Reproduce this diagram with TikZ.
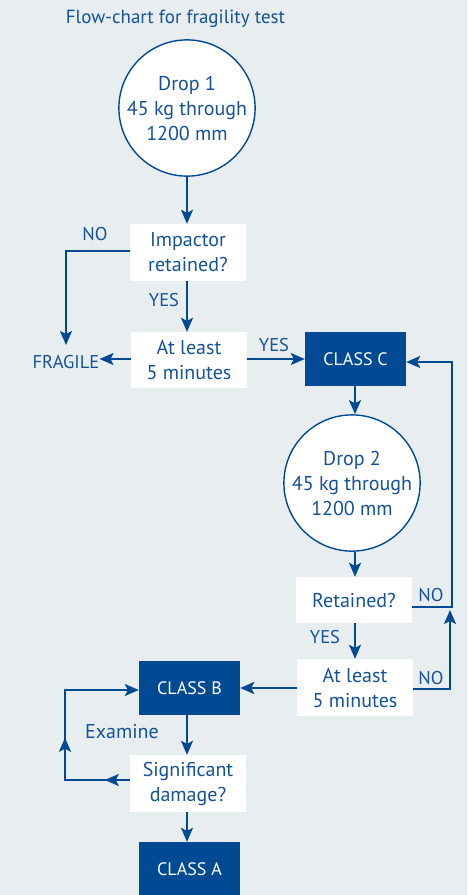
\documentclass[tikz,border=0pt]{standalone}
\usepackage{fontspec}
\setmainfont{PT Sans}
\usetikzlibrary{arrows.meta,decorations.markings}
\definecolor{bg}{RGB}{232,237,240}
\definecolor{dblue}{RGB}{0,74,147}
\definecolor{tblue}{RGB}{22,82,152}
\tikzset{
  arr/.style={-{Stealth[length=14pt,width=12pt,inset=3pt]}},
  conn/.style={draw=dblue,line width=1.8pt},
  whitebox/.style={rectangle,fill=white,text=tblue,minimum width=116pt,align=center,inner sep=0pt},
  classbox/.style={rectangle,fill=dblue,text=white,minimum width=101pt,minimum height=54pt,inner sep=0pt,font=\fontsize{18}{25}\selectfont},
  dropcircle/.style={circle,draw=dblue,line width=1.4pt,fill=white,text=tblue,minimum size=122pt,align=center,inner sep=0pt},
  lbl/.style={text=tblue,inner sep=0pt},
  caplbl/.style={lbl,font=\fontsize{18.5}{25}\selectfont},
}
\begin{document}
\begin{tikzpicture}[x=1pt,y=-1pt,font=\fontsize{20}{25}\selectfont]
\fill[bg] (0,0) rectangle (467,895);
\useasboundingbox (0,0) rectangle (467,895);

\node[lbl,font=\fontsize{19}{25}\selectfont] (title) at (175.5,19) {Flow-chart for fragility test};

\node[dropcircle] (d1) at (187,108) {Drop 1\\45 kg through\\1200 mm};
\node[whitebox,minimum height=57pt] (q1) at (188,252.5) {Impactor\\retained?};
\node[whitebox,minimum height=56pt] (t1) at (189,360) {At least\\5 minutes};
\node[caplbl] (fragile) at (66,362) {FRAGILE};
\node[classbox] (cc) at (355.5,359) {CLASS C};
\node[dropcircle] (d2) at (352,483) {Drop 2\\45 kg through\\1200 mm};
\node[whitebox,minimum height=46pt] (q2) at (354,600) {Retained?};
\node[whitebox,minimum height=57pt] (t2) at (355,687.5) {At least\\5 minutes};
\node[classbox] (cb) at (189.5,688) {CLASS B};
\node[whitebox,minimum height=57pt] (q3) at (188,783.5) {Significant\\damage?};
\node[classbox] (ca) at (189.5,869) {CLASS A};

% labels
\node[caplbl] (no1) at (95,234) {NO};
\node[caplbl] (yes1) at (164,300) {YES};
\node[caplbl] (yes2) at (274,345) {YES};
\node[caplbl] (no2) at (431,595) {NO};
\node[caplbl] (yes3) at (325,637) {YES};
\node[caplbl] (no3) at (431,678) {NO};
\node[lbl] (exam) at (122,732) {Examine};

% coordinates
\coordinate (fragtop) at (66,345);
\coordinate (cr1) at (452,607);
\coordinate (cr2) at (452,362);
\coordinate (up1) at (450,689);
\coordinate (up2) at (450,610);
\coordinate (lp1) at (65,780);
\coordinate (lp2) at (65,690);

% connectors
\draw[conn,arr] (d1.south) -- (d1.south |- q1.north);
\draw[conn,arr] (q1.west |- 0,251) -| (fragtop);
\draw[conn,arr] (q1.south -| 187,0) -- (t1.north -| 187,0);
\draw[conn,arr] (t1.west |- 0,359) -- (fragile.east |- 0,359);
\draw[conn,arr] (t1.east |- 0,359) -- (cc.west |- 0,359);
\draw[conn,arr] (cc.south -| 355,0) -- (d2.north -| 355,0);
\draw[conn,arr] (d2.south -| 355,0) -- (q2.north -| 355,0);
\draw[conn,arr] (q2.east |- cr1) -- (cr1) -- (cr2) -- (cc.east |- cr2);
\draw[conn,arr] (q2.south -| 355,0) -- (t2.north -| 355,0);
\draw[conn,arr] (t2.east |- up1) -- (up1) -- (up2);
\draw[conn,arr] (t2.west |- 0,688) -- (cb.east |- 0,688);
\draw[conn,arr] (cb.south -| 187,0) -- (q3.north -| 187,0);
\draw[conn,arr,postaction={decorate},decoration={markings,
   mark=at position 25pt with {\arrow{Stealth[length=14pt,width=12pt,inset=3pt]}},
   mark=at position 107pt with {\arrow{Stealth[length=14pt,width=12pt,inset=3pt]}}}]
   (q3.west |- lp1) -- (lp1) -- (lp2) -- (cb.west |- lp2);
\draw[conn,arr] (q3.south -| 187,0) -- (ca.north -| 187,0);
\end{tikzpicture}
\end{document}
